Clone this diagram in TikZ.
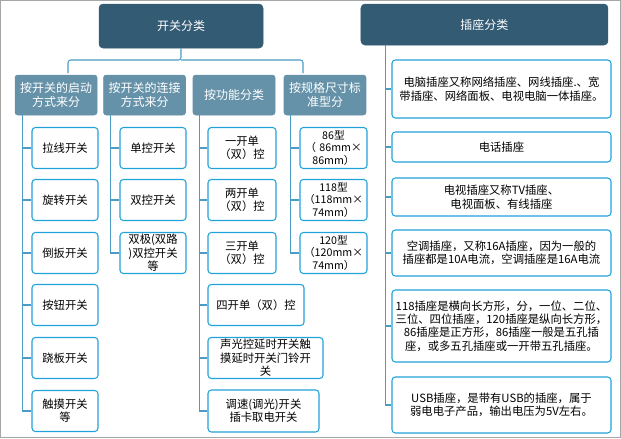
\documentclass[tikz,border=0pt]{standalone}
\usepackage{fontspec}
\setmainfont{Noto Sans CJK SC}
\XeTeXlinebreaklocale "zh"
\XeTeXlinebreakskip=0pt
\definecolor{headblue}{HTML}{345B74}
\definecolor{catblue}{HTML}{6592A8}
\definecolor{boxline}{HTML}{22A2DA}
\definecolor{linkblue}{HTML}{4A9CC6}
\tikzset{
  head/.style 2 args={draw=headblue, fill=headblue, rounded corners=3pt, text=white,
    minimum width=#1*0.75pt, minimum height=#2*0.75pt, font=\fontsize{9}{11}\selectfont},
  cat/.style={draw=catblue, fill=catblue, rounded corners=2pt, text=white, align=center,
    minimum width=61.5pt, minimum height=30pt, text width=58pt, inner sep=1pt,
    font=\fontsize{9}{11}\selectfont},
  leaf/.style 2 args={draw=boxline, fill=white, line width=0.8pt, rounded corners=2.5pt,
    align=center, minimum width=#1*0.75pt, minimum height=#2*0.75pt,
    text width=#1*0.75pt-5pt, inner sep=1pt, font=\fontsize{8.5}{10}\selectfont},
  link/.style={draw=linkblue, line width=0.8pt}
}
\begin{document}
\begin{tikzpicture}[x=0.75pt, y=-0.75pt]
  \draw[gray!70, line width=0.8pt, fill=white] (0.5,0.5) rectangle (620.5,437.5);
  % headers
  \node[head={164}{44}] (sw) at (181,26) {开关分类};
  \node[head={247}{41}] (so) at (484.5,24.5) {插座分类};
  % categories
  \node[cat] (c1) at (56,95) {按开关的启动\\方式来分};
  \node[cat] (c2) at (144.5,95) {按开关的连接\\方式来分};
  \node[cat] (c3) at (234,95) {按功能分类};
  \node[cat] (c4) at (325,95) {按规格尺寸标\\准型分};
  \coordinate (br) at (181,60);
  \draw[link, rounded corners=2pt] (sw.south) -- (br) -| (68,73);
  \draw[link, rounded corners=2pt] (br) -| (303,73);
  % column 1
  \foreach \y/\t [count=\i] in {148/拉线开关, 200/旋转开关, 253/倒扳开关, 305/按钮开关, 358/跷板开关, 411/触摸开关\\等}
    \node[leaf={66}{41}] (a\i) at (65,\y) {\t};
  \foreach \i in {1,...,6} \draw[link] (c1.south west) ++(7.5,0) |- (a\i.west);
  % column 2
  \foreach \y/\t [count=\i] in {148/单控开关, 200/双控开关, 253/双极(双路\\)双控开关\\等}
    \node[leaf={66}{41}] (b\i) at (153,\y) {\t};
  \foreach \i in {1,...,3} \draw[link] (c2.south west) ++(7,0) |- (b\i.west);
  % column 3
  \foreach \y/\t [count=\i] in {148/一开单\\（双）控, 200/两开单\\（双）控, 253/三开单\\（双）控}
    \node[leaf={68}{41}] (f\i) at (242,\y) {\t};
  \node[leaf={96}{41}] (f4) at (256,305) {四开单（双）控};
  \node[leaf={115}{41}] (f5) at (265.5,358) {声光控延时开关触\\摸延时开关门铃开\\关};
  \node[leaf={111}{42}] (f6) at (263.5,411) {调速(调光)开关\\插卡取电开关};
  \foreach \i in {1,...,6} \draw[link] (c3.south west) ++(7,0) |- (f\i.west);
  % column 4
  \foreach \y/\t [count=\i] in {148/86型\\（ 86mm×\\86mm）, 200/118型\\（118mm×\\74mm）, 253/120型\\（120mm×\\74mm）}
    \node[leaf={67}{41}, font=\fontsize{8}{9.2}\selectfont] (g\i) at (333.5,\y) {\t};
  \foreach \i in {1,...,3} \draw[link] (c4.south west) ++(7,0) |- (g\i.west);
  % sockets
  \node[leaf={219}{58}] (s1) at (501.5,89) {电脑插座又称网络插座、网线插座.、宽带插座、网络面板、电视电脑一体插座。};
  \node[leaf={219}{30}] (s2) at (501.5,147) {电话插座};
  \node[leaf={219}{38}] (s3) at (501.5,197) {电视插座又称TV插座、电视面板、有线插座};
  \node[leaf={219}{46}] (s4) at (501.5,253) {空调插座，又称16A插座，因为一般的插座都是10A电流，空调插座是16A电流};
  \node[leaf={219}{72}] (s5) at (501.5,326) {118插座是横向长方形，分，一位、二位、三位、四位插座，120插座是纵向长方形，86插座是正方形，86插座一般是五孔插座，或多五孔插座或一开带五孔插座。};
  \node[leaf={219}{56}] (s6) at (501.5,405) {USB插座，是带有USB的插座，属于弱电电子产品，输出电压为5V左右。};
  \foreach \i in {1,...,6} \draw[link] (so.south west) ++(25,0) |- (s\i.west);
\end{tikzpicture}
\end{document}
